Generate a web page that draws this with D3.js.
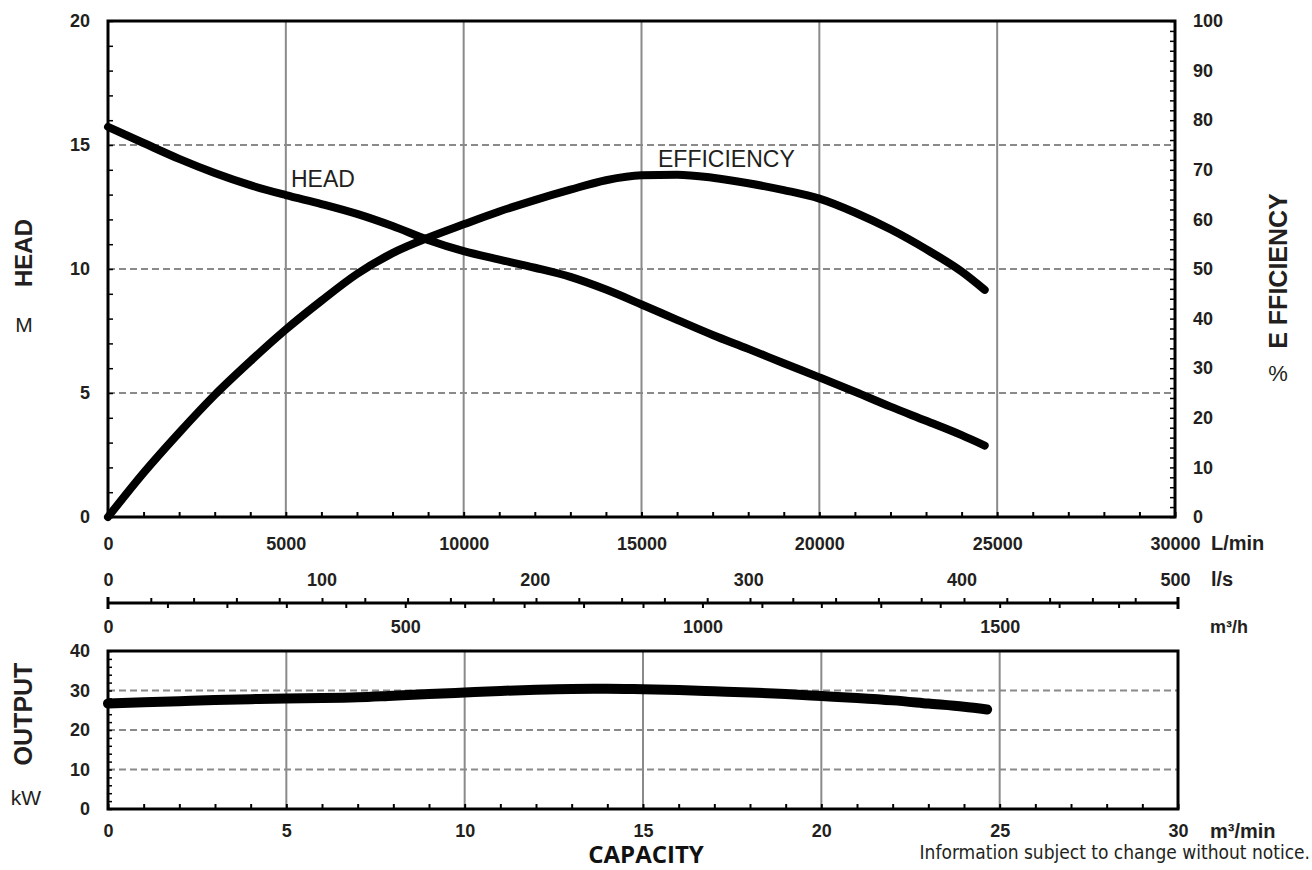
<!DOCTYPE html>
<html>
<head>
<meta charset="utf-8">
<script src="https://cdn.jsdelivr.net/npm/d3@7/dist/d3.min.js"></script>
<style>
  html, body { margin: 0; padding: 0; background: #fff; }
  svg { display: block; }
</style>
</head>
<body>
<svg id="chart" width="1312" height="870" font-family="Liberation Sans, Arial, Helvetica, sans-serif"></svg>
<script>
// ---------------- DATA ----------------
const flowLmin = [0,1000,2000,3000,4000,5000,6000,7000,8000,9000,10000,11000,12000,13000,14000,15000,16000,17000,18000,19000,20000,21000,22000,23000,24000,24650];
const headM = [15.73,15.08,14.44,13.87,13.38,12.98,12.62,12.22,11.73,11.17,10.72,10.38,10.05,9.68,9.17,8.57,7.95,7.34,6.78,6.2,5.63,5.05,4.45,3.88,3.3,2.88];
const efficiencyPct = [0,8.9,17.0,24.6,31.4,37.8,43.6,49.0,53.2,56.3,59.0,61.6,63.9,66.0,67.9,68.9,69.0,68.4,67.3,65.9,64.2,61.4,58.0,54.0,49.5,45.8];

const capacityM3min = [0,1,2,3,4,5,6,7,8,9,10,11,12,13,14,15,16,17,18,19,20,21,22,23,24,24.65];
const outputKW = [26.7,27.0,27.3,27.6,27.8,28.0,28.1,28.3,28.7,29.1,29.5,29.9,30.2,30.4,30.45,30.3,30.1,29.8,29.5,29.1,28.6,28.1,27.5,26.7,25.9,25.2];

const headTicks = [0,5,10,15,20];
const effTicks = [0,10,20,30,40,50,60,70,80,90,100];
const lminTicks = [0,5000,10000,15000,20000,25000,30000];
const lsTicks = [0,100,200,300,400,500];
const m3hTicks = [0,500,1000,1500];
const outputTicks = [0,10,20,30,40];
const m3minTicks = [0,5,10,15,20,25,30];

// ---------------- LAYOUT ----------------
(function () {
const svg = d3.select("#chart");
const L = 108, Rtop = 1175, Rbot = 1178;
const T1 = 21, B1 = 517;
const T2 = 651, B2 = 809;
const axisY = 603;
const fmt = d3.format("d");
const txtCol = "#231f20";
const baseFont = "'Liberation Sans', Arial, Helvetica, sans-serif";

const x = d3.scaleLinear().domain([0, 30000]).range([L, Rtop]);
const xLs = d3.scaleLinear().domain([0, 500]).range([L, Rbot]);
const xLsLab = d3.scaleLinear().domain([0, 500]).range([L, Rtop]);
const xM3h = d3.scaleLinear().domain([0, 1800]).range([L, Rbot]);
const xB = d3.scaleLinear().domain([0, 30]).range([L, Rbot]);
const yHead = d3.scaleLinear().domain([0, 20]).range([B1, T1]);
const yEff = d3.scaleLinear().domain([0, 100]).range([B1, T1]);
const yOut = d3.scaleLinear().domain([0, 40]).range([B2, T2]);

const gridCol = "#8a8a8a";

function addText(parent, s, opts) {
  const t = parent.append("text").text(s)
    .style("font-family", opts.family || baseFont)
    .style("font-size", opts.size + "px")
    .style("font-weight", opts.bold ? "bold" : "normal")
    .style("fill", opts.fill || txtCol);
  if (opts.transform) t.attr("transform", opts.transform);
  if (opts.x !== undefined) t.attr("x", opts.x);
  if (opts.y !== undefined) t.attr("y", opts.y);
  if (opts.anchor) t.attr("text-anchor", opts.anchor);
  return t;
}

// ---------- TOP CHART grid ----------
const gTop = svg.append("g");
gTop.selectAll("line.vg").data(lminTicks.filter(d => d > 0 && d < 30000)).enter()
  .append("line").attr("x1", d => x(d)).attr("x2", d => x(d))
  .attr("y1", T1).attr("y2", B1).attr("stroke", gridCol).attr("stroke-width", 2);
gTop.selectAll("line.hg").data(headTicks.filter(d => d > 0 && d < 20)).enter()
  .append("line").attr("x1", L).attr("x2", Rtop)
  .attr("y1", d => yHead(d)).attr("y2", d => yHead(d))
  .attr("stroke", gridCol).attr("stroke-width", 2).attr("stroke-dasharray", "7,4");

// minor ticks (inner)
gTop.append("g").attr("transform", `translate(${L},0)`)
  .call(d3.axisRight(yHead).tickValues(d3.range(0, 21, 1)).tickSize(5).tickFormat(""))
  .call(g => g.select(".domain").remove())
  .call(g => g.selectAll("line").attr("stroke", "#000").attr("stroke-width", 1.5));
gTop.append("g").attr("transform", `translate(${Rtop},0)`)
  .call(d3.axisLeft(yEff).tickValues(d3.range(0, 101, 2)).tickSize(5).tickFormat(""))
  .call(g => g.select(".domain").remove())
  .call(g => g.selectAll("line").attr("stroke", "#000").attr("stroke-width", 1.5));
gTop.append("g").attr("transform", `translate(0,${B1})`)
  .call(d3.axisTop(x).tickValues(d3.range(0, 30001, 1000)).tickSize(5).tickFormat(""))
  .call(g => g.select(".domain").remove())
  .call(g => g.selectAll("line").attr("stroke", "#000").attr("stroke-width", 2));

function styleLabels(g, size) {
  g.select(".domain").remove();
  g.selectAll(".tick line").remove();
  g.selectAll("text")
    .style("font-size", size + "px").style("font-weight", "bold")
    .style("fill", txtCol).style("font-family", baseFont);
}
gTop.append("g").attr("transform", `translate(${L},0)`)
  .call(d3.axisLeft(yHead).tickValues(headTicks).tickFormat(fmt).tickSize(0).tickPadding(18))
  .call(g => styleLabels(g, 18));
gTop.append("g").attr("transform", `translate(${Rtop},0)`)
  .call(d3.axisRight(yEff).tickValues(effTicks).tickFormat(fmt).tickSize(0).tickPadding(18))
  .call(g => styleLabels(g, 18));
gTop.append("g").attr("transform", `translate(0,${B1})`)
  .call(d3.axisBottom(x).tickValues(lminTicks).tickFormat(fmt).tickSize(0).tickPadding(20))
  .call(g => styleLabels(g, 18));

gTop.append("rect").attr("x", L).attr("y", T1).attr("width", Rtop - L).attr("height", B1 - T1)
  .attr("fill", "none").attr("stroke", "#000").attr("stroke-width", 3);

const lineGen = d3.line().curve(d3.curveMonotoneX);
gTop.append("path")
  .attr("d", lineGen(flowLmin.map((f, i) => [x(f), yHead(headM[i])])))
  .attr("fill", "none").attr("stroke", "#000").attr("stroke-width", 8).attr("stroke-linecap", "round");
gTop.append("path")
  .attr("d", lineGen(flowLmin.map((f, i) => [x(f), yEff(efficiencyPct[i])])))
  .attr("fill", "none").attr("stroke", "#000").attr("stroke-width", 8).attr("stroke-linecap", "round");

addText(gTop, "HEAD", {x: 291, y: 187, size: 23});
addText(gTop, "EFFICIENCY", {x: 658, y: 167, size: 23});

addText(svg, "HEAD", {transform: "translate(32,253) rotate(-90)", anchor: "middle", size: 24, bold: true});
addText(svg, "M", {x: 24, y: 332, anchor: "middle", size: 21});
addText(svg, "E FFICIENCY", {transform: "translate(1287,271) rotate(-90)", anchor: "middle", size: 25, bold: true});
addText(svg, "%", {x: 1278, y: 381, anchor: "middle", size: 22});

// ---------- MIDDLE (l/s, m3/h) ----------
svg.append("g").attr("transform", `translate(0,573)`)
  .call(d3.axisBottom(xLsLab).tickValues(lsTicks).tickFormat(fmt).tickSize(0).tickPadding(0))
  .call(g => styleLabels(g, 18));
const mid = svg.append("g").attr("transform", `translate(0,${axisY})`);
mid.append("line").attr("x1", L).attr("x2", Rbot).attr("y1", 0).attr("y2", 0)
  .attr("stroke", "#000").attr("stroke-width", 3);
mid.append("g")
  .call(d3.axisTop(xLs).tickValues(d3.range(20, 500, 20)).tickSize(5).tickFormat(""))
  .call(g => g.select(".domain").remove())
  .call(g => g.selectAll("line").attr("stroke", "#000").attr("stroke-width", 2));
mid.append("g")
  .call(d3.axisBottom(xM3h).tickValues(d3.range(100, 1800, 100)).tickSize(5).tickFormat(""))
  .call(g => g.select(".domain").remove())
  .call(g => g.selectAll("line").attr("stroke", "#000").attr("stroke-width", 2));
mid.selectAll("line.end").data([0, 1800]).enter().append("line")
  .attr("x1", d => xM3h(d)).attr("x2", d => xM3h(d)).attr("y1", -6).attr("y2", 6)
  .attr("stroke", "#000").attr("stroke-width", 3);
svg.append("g").attr("transform", `translate(0,620)`)
  .call(d3.axisBottom(xM3h).tickValues(m3hTicks).tickFormat(fmt).tickSize(0).tickPadding(0))
  .call(g => styleLabels(g, 18));

addText(svg, "L/min", {x: 1211, y: 550, size: 20, bold: true});
addText(svg, "l/s", {x: 1211, y: 586, size: 20, bold: true});
addText(svg, "m³/h", {x: 1210, y: 633, size: 18, bold: true});

// ---------- BOTTOM CHART ----------
const bot = svg.append("g");
bot.selectAll("line.vg").data(m3minTicks.filter(d => d > 0 && d < 30)).enter()
  .append("line").attr("x1", d => xB(d)).attr("x2", d => xB(d))
  .attr("y1", T2).attr("y2", B2).attr("stroke", gridCol).attr("stroke-width", 2);
bot.selectAll("line.hg").data(outputTicks.filter(d => d > 0 && d < 40)).enter()
  .append("line").attr("x1", L).attr("x2", Rbot)
  .attr("y1", d => yOut(d)).attr("y2", d => yOut(d))
  .attr("stroke", gridCol).attr("stroke-width", 2).attr("stroke-dasharray", "7,4");
bot.append("g").attr("transform", `translate(${L},0)`)
  .call(d3.axisRight(yOut).tickValues(d3.range(0, 41, 2)).tickSize(4).tickFormat(""))
  .call(g => g.select(".domain").remove())
  .call(g => g.selectAll("line").attr("stroke", "#000").attr("stroke-width", 1.5));
bot.append("g").attr("transform", `translate(0,${B2})`)
  .call(d3.axisTop(xB).tickValues(d3.range(0, 31, 1)).tickSize(5).tickFormat(""))
  .call(g => g.select(".domain").remove())
  .call(g => g.selectAll("line").attr("stroke", "#000").attr("stroke-width", 2));
bot.append("g").attr("transform", `translate(${L},0)`)
  .call(d3.axisLeft(yOut).tickValues(outputTicks).tickFormat(fmt).tickSize(0).tickPadding(18))
  .call(g => styleLabels(g, 18));
bot.append("g").attr("transform", `translate(0,${B2})`)
  .call(d3.axisBottom(xB).tickValues(m3minTicks).tickFormat(fmt).tickSize(0).tickPadding(15))
  .call(g => styleLabels(g, 18));
bot.append("rect").attr("x", L).attr("y", T2).attr("width", Rbot - L).attr("height", B2 - T2)
  .attr("fill", "none").attr("stroke", "#000").attr("stroke-width", 3);
bot.append("path")
  .attr("d", lineGen(capacityM3min.map((c, i) => [xB(c), yOut(outputKW[i])])))
  .attr("fill", "none").attr("stroke", "#000").attr("stroke-width", 10).attr("stroke-linecap", "round");

addText(svg, "OUTPUT", {transform: "translate(32,714) rotate(-90)", anchor: "middle", size: 25, bold: true});
addText(svg, "kW", {x: 26, y: 805, anchor: "middle", size: 21});
addText(svg, "m³/min", {x: 1210, y: 838, size: 20, bold: true});

addText(svg, "CAPACITY", {x: 646, y: 863, anchor: "middle", size: 24, bold: true,
  family: "'Open Sans', 'Noto Sans', sans-serif", fill: "#111"});
addText(svg, "Information subject to change without notice.", {x: 1310, y: 859, size: 19, anchor: "end",
  family: "'Liberation Sans Narrow', 'DejaVu Sans Condensed', Arial, sans-serif"});
})();
</script>
</body>
</html>
